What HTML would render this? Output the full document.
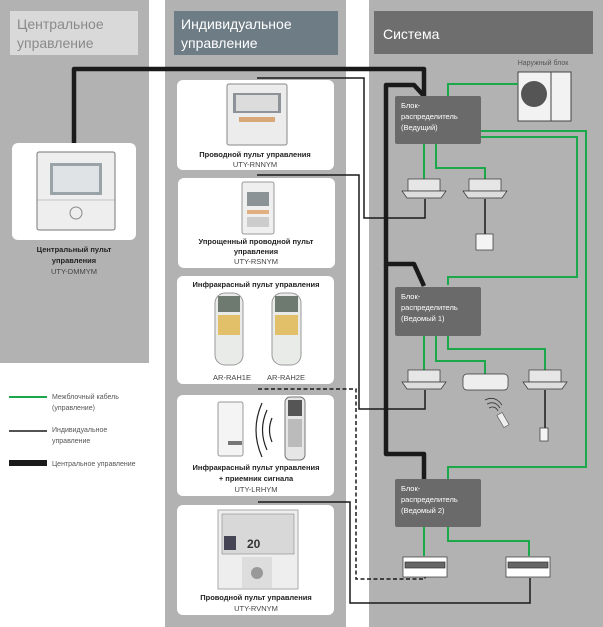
<!DOCTYPE html>
<html><head><meta charset="utf-8"><style>
body{margin:0;width:603px;height:627px;background:#fff;overflow:hidden}
svg{display:block}
text{font-family:"Liberation Sans",sans-serif}
.b{font-weight:bold;font-size:7.5px;fill:#222}
.m{font-size:7.5px;fill:#444}
.w{font-size:7.5px;fill:#fff}
.l{font-size:7px;fill:#555}
</style></head><body>
<svg width="603" height="627" viewBox="0 0 603 627" xmlns="http://www.w3.org/2000/svg">
<!-- panels -->
<rect x="0" y="0" width="149" height="363" fill="#b2b2b2"/>
<rect x="165" y="0" width="181" height="627" fill="#b2b2b2"/>
<rect x="369" y="0" width="234" height="627" fill="#b2b2b2"/>
<rect x="10" y="11" width="128" height="44" fill="#d9d9d9"/>
<text x="17" y="29" font-size="14" fill="#8a8a8a">Центральное</text>
<text x="17" y="48" font-size="14" fill="#8a8a8a">управление</text>
<rect x="174" y="11" width="164" height="44" fill="#6d7c85"/>
<text x="181" y="29" font-size="14" fill="#fff">Индивидуальное</text>
<text x="181" y="48" font-size="14" fill="#fff">управление</text>
<rect x="374" y="11" width="219" height="43" fill="#6e6e6e"/>
<text x="383" y="39" font-size="14" fill="#fff">Система</text>

<!-- cards -->
<rect x="12" y="143" width="124" height="97" rx="6" fill="#fff"/>
<rect x="177" y="80" width="157" height="90" rx="6" fill="#fff"/>
<rect x="178" y="178" width="157" height="90" rx="6" fill="#fff"/>
<rect x="177" y="276" width="157" height="108" rx="6" fill="#fff"/>
<rect x="177" y="395" width="157" height="101" rx="6" fill="#fff"/>
<rect x="177" y="505" width="157" height="110" rx="6" fill="#fff"/>

<!-- central remote -->
<rect x="37" y="152" width="78" height="78" rx="2" fill="#eee" stroke="#777"/>
<rect x="50" y="163" width="52" height="32" fill="#9aa3a8"/>
<rect x="53" y="166" width="46" height="26" fill="#dfe3e5"/>
<circle cx="76" cy="213" r="6" fill="none" stroke="#888"/>
<line x1="37" y1="200" x2="115" y2="200" stroke="#999" stroke-width="0.5"/>
<text x="74" y="252" class="b" text-anchor="middle">Центральный пульт</text>
<text x="74" y="263" class="b" text-anchor="middle">управления</text>
<text x="74" y="274" class="m" text-anchor="middle">UTY-DMMYM</text>

<!-- card1 device -->
<rect x="227" y="84" width="60" height="61" rx="2" fill="#ececec" stroke="#888"/>
<rect x="233" y="93" width="48" height="20" fill="#8d9398"/>
<rect x="236" y="95" width="42" height="16" fill="#dcdcdc"/>
<rect x="239" y="117" width="36" height="5" fill="#d8a878"/>
<text x="255" y="157" class="b" text-anchor="middle">Проводной пульт управления</text>
<text x="255" y="167" class="m" text-anchor="middle">UTY-RNNYM</text>
<!-- card2 -->
<rect x="242" y="182" width="32" height="52" rx="2" fill="#efefef" stroke="#999"/>
<rect x="247" y="192" width="22" height="14" fill="#8b9396"/>
<rect x="247" y="210" width="22" height="4" fill="#e0b080"/>
<rect x="247" y="217" width="22" height="10" fill="#ccc"/>
<text x="256" y="244" class="b" text-anchor="middle">Упрощенный проводной пульт</text>
<text x="256" y="254" class="b" text-anchor="middle">управления</text>
<text x="256" y="264" class="m" text-anchor="middle">UTY-RSNYM</text>
<!-- card3 -->
<text x="256" y="287" class="b" text-anchor="middle">Инфракрасный пульт управления</text>
<rect x="215" y="293" width="28" height="72" rx="10" fill="#e9ebe9" stroke="#999"/>
<rect x="218" y="296" width="22" height="16" fill="#6e7a70"/>
<rect x="218" y="315" width="22" height="20" fill="#e2c06a"/>
<rect x="272" y="293" width="29" height="72" rx="10" fill="#e9ebe9" stroke="#999"/>
<rect x="275" y="296" width="23" height="16" fill="#6e7a70"/>
<rect x="275" y="315" width="23" height="20" fill="#e2c06a"/>
<text x="232" y="380" class="m" text-anchor="middle">AR-RAH1E</text>
<text x="286" y="380" class="m" text-anchor="middle">AR-RAH2E</text>
<!-- card4 -->
<rect x="218" y="402" width="25" height="54" rx="2" fill="#f4f4f4" stroke="#999"/>
<rect x="228" y="441" width="14" height="4" fill="#777"/>
<path d="M262 403 Q250 430 262 457 M267 410 Q258 430 267 450 M272 418 Q267 430 272 442" fill="none" stroke="#222" stroke-width="1.2"/>
<rect x="285" y="397" width="20" height="63" rx="5" fill="#e6e6e6" stroke="#777"/>
<rect x="288" y="400" width="14" height="16" fill="#555"/>
<rect x="288" y="419" width="14" height="28" fill="#bbb"/>
<text x="256" y="470" class="b" text-anchor="middle">Инфракрасный пульт управления</text>
<text x="256" y="481" class="b" text-anchor="middle">+ приемник сигнала</text>
<text x="256" y="492" class="m" text-anchor="middle">UTY-LRHYM</text>
<!-- card5 -->
<rect x="218" y="510" width="80" height="79" fill="#eee" stroke="#aaa"/>
<rect x="222" y="514" width="72" height="40" fill="#d8d8d8" stroke="#777" stroke-width="0.5"/>
<rect x="224" y="536" width="12" height="14" fill="#445"/>
<text x="247" y="548" font-size="12" font-weight="bold" fill="#333">20</text>
<rect x="242" y="557" width="30" height="31" fill="#ddd"/>
<circle cx="257" cy="573" r="6" fill="#999"/>
<text x="256" y="600" class="b" text-anchor="middle">Проводной пульт управления</text>
<text x="256" y="611" class="m" text-anchor="middle">UTY-RVNYM</text>

<!-- outdoor unit -->
<text x="543" y="65" class="l" text-anchor="middle">Наружный блок</text>
<rect x="518" y="72" width="53" height="49" fill="#f2f2f2" stroke="#444"/>
<circle cx="534" cy="94" r="13" fill="#555"/>
<line x1="551" y1="72" x2="551" y2="121" stroke="#444"/>

<!-- green connectors -->
<g fill="none" stroke="#1aa84a" stroke-width="2">
<path d="M448 96 V84 H518"/>
<path d="M481 131 H586 V467 H448 V479"/>
<path d="M481 137 H577 V277 H448 V285"/>
<path d="M424 144 V180"/>
<path d="M436 144 V168 H485 V180"/>
<path d="M424 336 V370"/>
<path d="M436 336 V361 H485 V374"/>
<path d="M448 336 V349 H545 V370"/>
<path d="M424 527 V556"/>
<path d="M448 527 V541 H529 V556"/>
</g>
<!-- thick central -->
<g fill="none" stroke="#1a1a1a" stroke-width="4.5" stroke-linejoin="round">
<path d="M74 143 V69 H424 V96"/>
<path d="M424 96 L414 85 H386 V264 H414 L424 286"/>
<path d="M386 264 V454 H424 V480"/>
</g>
<!-- thin individual -->
<g fill="none" stroke="#1a1a1a" stroke-width="1.5">
<path d="M257 78 H364 V218 H425 V199"/>
<path d="M257 175 H359 V409 H425 V390"/>
<path d="M485 199 V234"/>
<path d="M545 390 V428"/>
<path d="M258 502 H350 V603 H530 V578"/>
<path d="M258 389 H356 V579 H425 V568" stroke-dasharray="4,2.5"/>
</g>

<!-- distributor boxes -->
<rect x="395" y="96" width="86" height="48" rx="2" fill="#6a6a6a"/>
<text x="401" y="108" class="w">Блок-</text>
<text x="401" y="119" class="w">распределитель</text>
<text x="401" y="130" class="w">(Ведущий)</text>
<rect x="395" y="287" width="86" height="49" rx="2" fill="#6a6a6a"/>
<text x="401" y="299" class="w">Блок-</text>
<text x="401" y="310" class="w">распределитель</text>
<text x="401" y="321" class="w">(Ведомый 1)</text>
<rect x="395" y="479" width="86" height="48" rx="2" fill="#6a6a6a"/>
<text x="401" y="491" class="w">Блок-</text>
<text x="401" y="502" class="w">распределитель</text>
<text x="401" y="513" class="w">(Ведомый 2)</text>

<!-- indoor units -->
<g stroke="#333" stroke-width="0.7">
<rect x="408" y="179" width="32" height="12" fill="#e6e6e6"/><path d="M402 191 H446 L441 198 H407 Z" fill="#ddd"/>
<rect x="469" y="179" width="32" height="12" fill="#e6e6e6"/><path d="M463 191 H507 L502 198 H468 Z" fill="#ddd"/>
<rect x="476" y="234" width="17" height="16" fill="#f4f4f4"/>
<rect x="408" y="370" width="32" height="12" fill="#e6e6e6"/><path d="M402 382 H446 L441 389 H407 Z" fill="#ddd"/>
<rect x="463" y="374" width="45" height="16" rx="4" fill="#eee"/>
<rect x="529" y="370" width="32" height="12" fill="#e6e6e6"/><path d="M523 382 H567 L562 389 H528 Z" fill="#ddd"/>
<rect x="540" y="428" width="8" height="13" fill="#f4f4f4"/>
<rect x="403" y="557" width="44" height="20" fill="#fff"/><rect x="405" y="562" width="40" height="6" fill="#666"/>
<rect x="506" y="557" width="44" height="20" fill="#fff"/><rect x="508" y="562" width="40" height="6" fill="#666"/>
</g>
<path d="M485 400 Q495 395 502 405 M487 404 Q495 400 500 408 M489 408 Q495 405 498 411" fill="none" stroke="#333" stroke-width="0.8"/>
<rect x="500" y="413" width="6" height="14" fill="#eee" stroke="#555" stroke-width="0.6" transform="rotate(-30 503 420)"/>

<!-- legend -->
<line x1="9" y1="397" x2="47" y2="397" stroke="#1aa84a" stroke-width="2"/>
<text x="52" y="399" class="l">Межблочный кабель</text>
<text x="52" y="410" class="l">(управление)</text>
<line x1="9" y1="431" x2="47" y2="431" stroke="#1a1a1a" stroke-width="1.5"/>
<text x="52" y="432" class="l">Индивидуальное</text>
<text x="52" y="443" class="l">управление</text>
<rect x="9" y="460" width="38" height="6" fill="#1a1a1a"/>
<text x="52" y="466" class="l">Центральное управление</text>
</svg>
</body></html>
